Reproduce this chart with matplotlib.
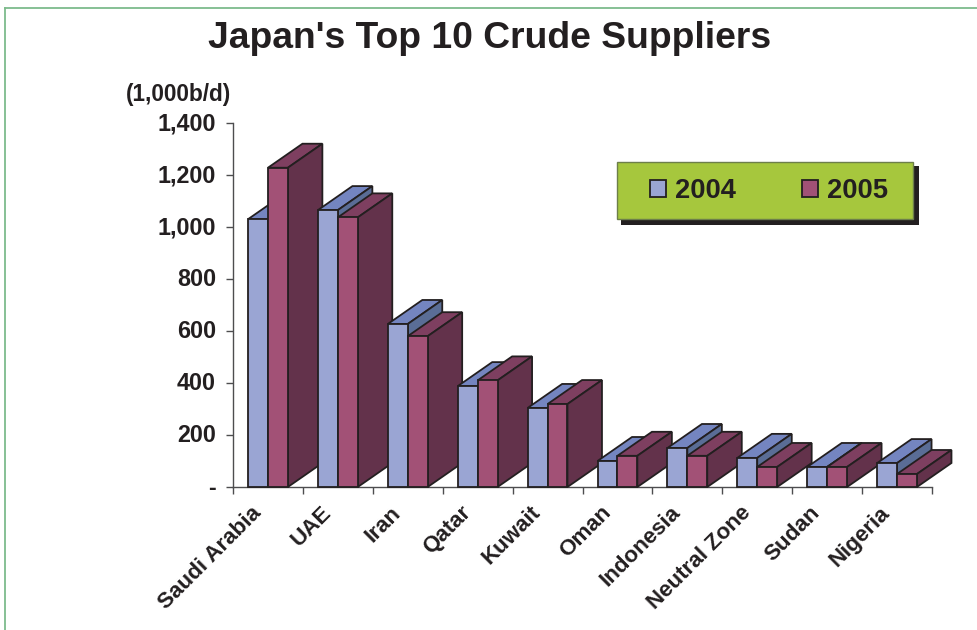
import matplotlib
matplotlib.use("Agg")
import matplotlib.pyplot as plt
from matplotlib.patches import Polygon, Rectangle
from matplotlib.lines import Line2D
from matplotlib.ticker import FuncFormatter
from matplotlib.transforms import ScaledTranslation

categories = ["Saudi Arabia", "UAE", "Iran", "Qatar", "Kuwait", "Oman",
              "Indonesia", "Neutral Zone", "Sudan", "Nigeria"]
v2004 = [1030, 1065, 627, 388, 304, 100, 150, 112, 77, 92]
v2005 = [1228, 1037, 580, 410, 319, 120, 120, 77, 77, 50]
yticks = [0, 200, 400, 600, 800, 1000, 1200, 1400]

W, H = 977, 630
plt.rcParams["font.family"] = ["Liberation Sans", "DejaVu Sans"]
plt.rcParams["font.weight"] = "bold"
TXT = "#231f20"
EDGE = "#231f20"
fig = plt.figure(figsize=(W / 100, H / 100), dpi=100, facecolor="white")
def fx(p): return p / W
def fy(p): return 1 - p / H

ax = fig.add_axes([fx(233), fy(487), (932 - 233) / W, (487 - 123) / H])
ax.set_xlim(0, 10)
ax.set_ylim(0, 1400)
ax.patch.set_visible(False)
for s in ("top", "right"):
    ax.spines[s].set_visible(False)
for s in ("left", "bottom"):
    ax.spines[s].set_color("#4d4d4f")
    ax.spines[s].set_linewidth(1.0)

# figure frame
GREEN = "#7dbb8c"
fig.add_artist(Line2D([fx(4.5), fx(4.5)], [0, fy(8)], color=GREEN, lw=1.3))
fig.add_artist(Line2D([fx(4.5), 1], [fy(8), fy(8)], color=GREEN, lw=1.3))

dx = 34.5 / 69.9
dy = 24 / 0.26
x0, wd = 0.215, 0.285
styles = [("#9aa5d3", "#7485c0", "#5a6d96"), ("#a25176", "#7e3f60", "#63324b")]

def bar3d(x, v, cols, z):
    front, top, side = cols
    kw = dict(edgecolor=EDGE, linewidth=1.3, joinstyle="miter", clip_on=False, zorder=z)
    ax.add_patch(Polygon([(x, v), (x + dx, v + dy), (x + wd + dx, v + dy), (x + wd, v)], facecolor=top, **kw))
    ax.add_patch(Polygon([(x + wd, 0), (x + wd + dx, dy), (x + wd + dx, v + dy), (x + wd, v)], facecolor=side, **kw))
    ax.bar(x, v, wd, align="edge", color=front, edgecolor=EDGE, linewidth=1.3, clip_on=False, zorder=z)

z = 3
for i in range(len(categories)):
    bar3d(i + x0, v2004[i], styles[0], z)
    z += 1
    bar3d(i + x0 + wd, v2005[i], styles[1], z)
    z += 1

ax.set_yticks(yticks)
ax.yaxis.set_major_formatter(FuncFormatter(lambda v, p: "-" if v == 0 else f"{int(v):,}"))
ax.tick_params(axis="y", length=5.3, width=1, color="#4d4d4f", labelsize=16.8, labelcolor=TXT, pad=7)
up = ScaledTranslation(0, 1.5 / 100, fig.dpi_scale_trans)
for lab in ax.get_yticklabels():
    lab.set_transform(lab.get_transform() + up)
ax.set_xticks(range(len(categories) + 1))
ax.set_xticklabels([""] * (len(categories) + 1))
ax.tick_params(axis="x", length=5.3, width=1, color="#4d4d4f")

for i, c in enumerate(categories):
    ax.annotate(c, xy=(i + 0.5, 0), xycoords=("data", "axes fraction"), xytext=(-12.5, -11),
                textcoords="offset points", rotation=45, rotation_mode="anchor",
                ha="right", va="top", fontsize=16.1, color=TXT)

fig.text(fx(489.5), fy(48), "Japan's Top 10 Crude Suppliers", ha="center", va="baseline",
         fontsize=26.8, color=TXT)
fig.text(fx(126), fy(101), "(1,000b/d)", ha="left", va="baseline", fontsize=16.3, color=TXT)

# legend: shadow, green box, then entries
lx0, lx1, ly0, ly1 = 617, 913, 162, 219
fig.add_artist(Rectangle((fx(lx0 + 4), fy(ly1 + 6)), (lx1 - lx0 + 2) / W, (ly1 - ly0 + 2) / H,
                         transform=fig.transFigure, facecolor=EDGE, edgecolor="none", zorder=5))
fig.add_artist(Rectangle((fx(lx0), fy(ly1)), (lx1 - lx0) / W, (ly1 - ly0) / H,
                         transform=fig.transFigure, facecolor="#a6c73d", edgecolor="#6d7f4a",
                         linewidth=1.0, zorder=6))
handles = [Rectangle((0, 0), 1, 1, facecolor=styles[0][0], edgecolor=EDGE, linewidth=1.3),
           Rectangle((0, 0), 1, 1, facecolor=styles[1][0], edgecolor=EDGE, linewidth=1.3)]
leg = fig.legend(handles, ["2004", "2005"], loc="center", ncol=2,
                 bbox_to_anchor=(fx(769), fy(191.5)),
                 fontsize=19.7, frameon=False, handlelength=0.58, handleheight=0.58,
                 handletextpad=0.32, columnspacing=2.42, borderpad=0, borderaxespad=0,
                 labelcolor=TXT)
leg.set_zorder(7)
fig.savefig("out.png", dpi=100)
